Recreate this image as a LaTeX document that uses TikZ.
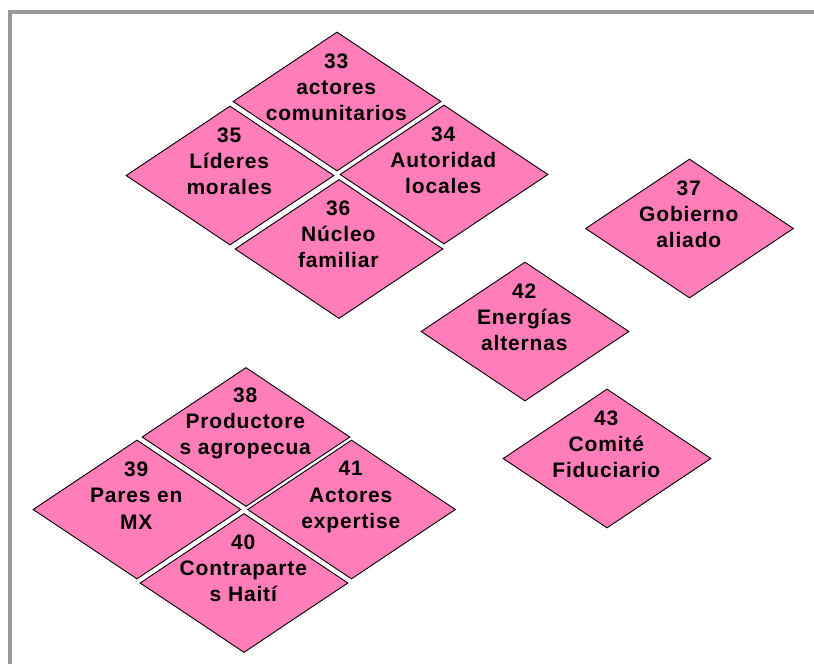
\documentclass[tikz,border=0pt]{standalone}
\usepackage{fontspec}
\setmainfont[LetterSpace=4]{Liberation Sans}
\usetikzlibrary{shapes.geometric}
\definecolor{rosa}{HTML}{FF7EB9}
\definecolor{marco}{HTML}{999999}
\tikzset{
  dia/.style={diamond,draw=black,line width=0.9pt,fill=rosa,minimum width=208pt,minimum height=139pt,inner sep=0pt,line join=miter,miter limit=2},
  txt/.style={align=center,font=\fontsize{21}{26.2}\selectfont\bfseries,text=black,inner sep=0pt}
}
\newcommand{\rombo}[5]{%
  \node[dia] (#1) at (#2,#3) {};
  \node[txt] (#1t) at ([xshift=-0.7pt,yshift=#4pt]#1.center) {#5};
}
\begin{document}
\begin{tikzpicture}[x=1pt,y=-1pt]
\useasboundingbox (0,0) rectangle (814,664);
\fill[white] (0,0) rectangle (814,664);
\draw[marco,line width=4pt] (10,664) -- (10,12) -- (814,12);
\rombo{a33}{337}{101.5}{14.5}{33\\actores\\comunitarios}
\rombo{a35}{230}{175.5}{14.5}{35\\Líderes\\morales}
\rombo{a34}{444}{174.5}{14.5}{34\\Autoridad\\locales}
\rombo{a36}{339}{249}{14.5}{36\\Núcleo\\familiar}
\rombo{a37}{689.5}{228.5}{14}{37\\Gobierno\\aliado}
\rombo{a42}{525}{331.5}{14.5}{42\\Energías\\alternas}
\rombo{a43}{607}{458.5}{14.5}{43\\Comité\\Fiduciario}
\rombo{a38}{246}{437}{13.5}{38\\Productore\\s agropecua}
\rombo{a39}{137}{509.5}{14}{39\\Pares en\\MX}
\rombo{a41}{351.5}{509.5}{12.5}{41\\Actores\\expertise}
\rombo{a40}{244}{583}{14.5}{40\\Contraparte\\s Haití}
\end{tikzpicture}
\end{document}
